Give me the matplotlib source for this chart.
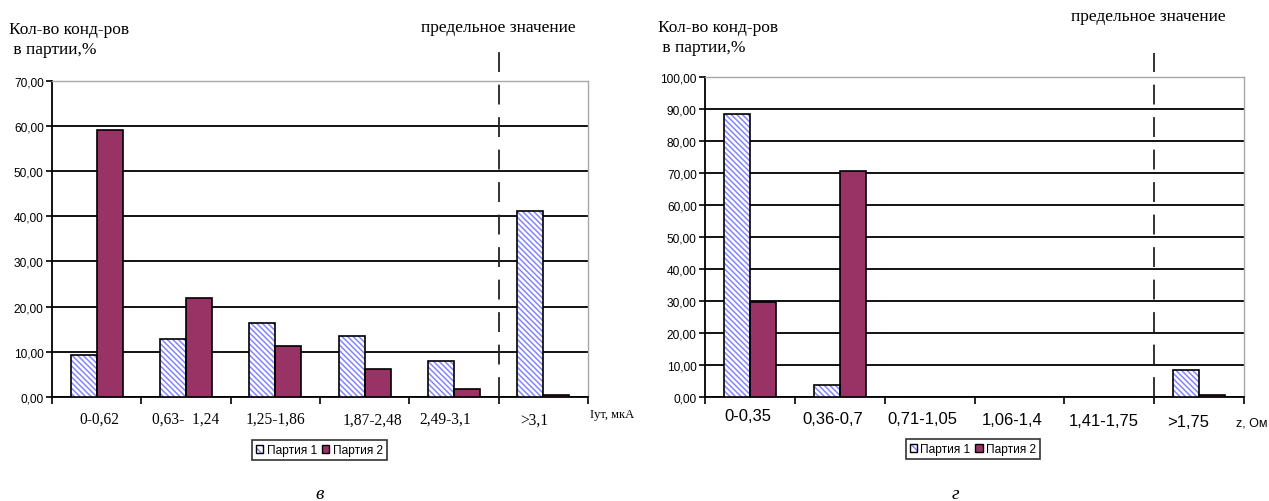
import matplotlib
matplotlib.use("Agg")
import matplotlib.pyplot as plt
from matplotlib.patches import Patch
from matplotlib.transforms import ScaledTranslation, blended_transform_factory
import numpy as np

# Distribution of capacitors within a batch, %
cats_i = ["0-0,62", "0,63-  1,24", "1,25-1,86", "1,87-2,48", "2,49-3,1", ">3,1"]
batch1_i = [9.3, 12.8, 16.4, 13.4, 7.9, 41.1]
batch2_i = [59.2, 21.9, 11.3, 6.1, 1.8, 0.3]

cats_z = ["0-0,35", "0,36-0,7", "0,71-1,05", "1,06-1,4", "1,41-1,75", ">1,75"]
batch1_z = [88.5, 3.7, 0.0, 0.0, 0.0, 8.4]
batch2_z = [29.7, 70.5, 0.0, 0.0, 0.0, 0.4]

series_names = ["Партия 1", "Партия 2"]
ylabel = "Кол-во конд-ров\n в партии,%"
limit_text = "предельное значение"

W, H = 1269, 502
PLUM = "#993366"
HATCH_BLUE = "#8585ff"
HATCH = "\\" * 6
plt.rcParams["hatch.linewidth"] = 1.1

fig = plt.figure(figsize=(W / 100, H / 100), dpi=100)


def px(x, y):
    return x / W, 1 - y / H


def draw_panel(box, cats, b1, b2, ymax, cat_font, cat_size, lab_dx, lab_dy,
               xunit, unit_font, unit_xy, ylab_xy, limit_xy, dash_top,
               letter, letter_xy, legend_xy):
    x0, y_top, x1, y0 = box
    ax = fig.add_axes([x0 / W, 1 - y0 / H, (x1 - x0) / W, (y0 - y_top) / H])
    x = np.arange(len(cats))
    w = 0.29
    ax.bar(x - w / 2, b1, w, facecolor="white", edgecolor=HATCH_BLUE,
           hatch=HATCH, linewidth=0, zorder=3)
    ax.bar(x - w / 2, b1, w, facecolor="none", edgecolor="black",
           linewidth=1.2, zorder=4)
    ax.bar(x + w / 2, b2, w, facecolor=PLUM, edgecolor="black",
           linewidth=1.2, zorder=3)

    ax.set_xlim(-0.5, len(cats) - 0.5)
    ax.set_ylim(0, ymax)
    ticks = np.arange(0, ymax + 0.1, 10)
    ax.set_yticks(ticks)
    ax.set_yticklabels([f"{t:.2f}".replace(".", ",") for t in ticks],
                       family="Liberation Sans", fontsize=8.6)
    ax.yaxis.grid(True, color="black", linewidth=1.3)
    ax.set_axisbelow(True)
    ax.yaxis.get_gridlines()[-1].set_visible(False)

    # group boundaries as ticks, group names as free labels
    ax.set_xticks(np.arange(-0.5, len(cats)))
    ax.set_xticklabels([])
    ax.tick_params(axis="x", length=5, width=1.2, direction="out")
    ax.tick_params(axis="y", length=4, width=1.2, direction="out", pad=2)
    trans = blended_transform_factory(ax.transData, ax.transAxes)
    for i, (lab, dx, dy) in enumerate(zip(cats, lab_dx, lab_dy)):
        off = ScaledTranslation(dx / 100, -dy / 100, fig.dpi_scale_trans)
        ax.text(i, 0, lab, transform=trans + off, family=cat_font,
                fontsize=cat_size, ha="center", va="center")

    for s in ("top", "right"):
        ax.spines[s].set_color("#a8a8a8")
        ax.spines[s].set_linewidth(1.0)
    for s in ("left", "bottom"):
        ax.spines[s].set_color("black")
        ax.spines[s].set_linewidth(1.3)

    # limit value marker between the last two groups
    ax.plot([len(cats) - 1.5] * 2, [0, dash_top], color="#222222",
            linewidth=1.3, dashes=(11, 7), clip_on=False, zorder=5)

    fig.text(*px(*ylab_xy), ylabel, family="Liberation Serif", fontsize=12.5,
             va="center", ha="left", linespacing=1.25)
    fig.text(*px(*limit_xy), limit_text, family="Liberation Serif",
             fontsize=12.5, va="center", ha="left")
    fig.text(*px(*unit_xy), xunit, family=unit_font, fontsize=9,
             va="center", ha="left")
    fig.text(*px(*letter_xy), letter, family="Liberation Serif",
             style="italic", fontsize=14, ha="center", va="center")

    handles = [(Patch(facecolor="white", edgecolor=HATCH_BLUE, hatch="\\\\\\\\",
                      linewidth=0),
                Patch(facecolor="none", edgecolor="black", linewidth=1.0)),
               Patch(facecolor=PLUM, edgecolor="black", linewidth=1.0)]
    leg = fig.legend(handles, series_names, loc="center",
                     bbox_to_anchor=px(*legend_xy), ncol=2, frameon=True,
                     fancybox=False, edgecolor="black",
                     prop={"family": "Liberation Sans", "size": 8.6},
                     handlelength=0.6, handleheight=0.6, handletextpad=0.3,
                     columnspacing=0.4, borderpad=0.35, borderaxespad=0)
    leg.get_frame().set_linewidth(1.2)
    return ax


draw_panel((52, 82, 588, 397.7), cats_i, batch1_i, batch2_i, 70,
           "Liberation Serif", 11.2,
           [3, 0, 0, 8, -9, -9], [22, 22, 22, 23, 22, 23],
           "Iут, мкА", "Liberation Serif", (590, 415),
           (9, 40), (421, 27.5), 78.4, "в", (320, 495), (319.5, 451))

draw_panel((705, 77.7, 1244, 397.7), cats_z, batch1_z, batch2_z, 100,
           "Liberation Sans", 12,
           [-2, -7, -7, -7, -6, -11], [19, 22, 22, 23, 24, 25],
           "z, Ом", "Liberation Sans", (1236, 423),
           (658, 38), (1071, 17.3), 107.5, "г", (955, 495), (973, 450))

fig.savefig("out.png", dpi=100, facecolor="white")
